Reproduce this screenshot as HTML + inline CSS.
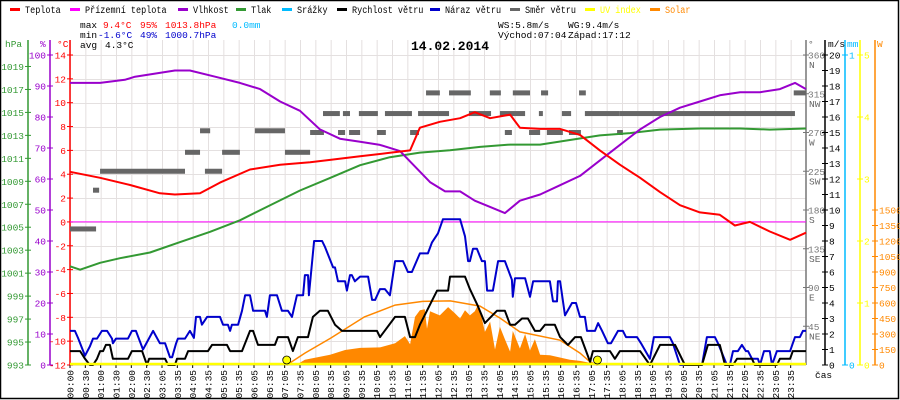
<!DOCTYPE html>
<html><head><meta charset="utf-8">
<style>
html,body{margin:0;padding:0;background:#fff;}
#wrap{position:relative;width:900px;height:400px;overflow:hidden;}
svg text{font-family:"Liberation Mono",monospace;}
</style></head>
<body>
<div id="wrap">
<svg id="chart" width="900" height="400" viewBox="0 0 900 400" xmlns="http://www.w3.org/2000/svg"></svg>
</div>
<script>
// ---------- DATA ----------
const xLabels = ["00:00","00:30","01:00","01:30","02:00","02:30","03:05","03:35","04:05","04:35","05:05","05:35","06:05","06:35","07:05","07:35","08:05","08:35","09:05","09:35","10:05","10:35","11:05","11:35","12:05","12:35","13:05","13:35","14:05","14:35","15:05","15:35","16:05","16:35","17:05","17:35","18:05","18:35","19:05","19:35","20:05","20:35","21:05","21:35","22:05","22:35","23:05","23:35"];
const tempT = [0,0.98,1.96,2.93,3.42,4.24,4.89,5.87,6.85,7.83,8.48,9.46,10.43,11.09,11.41,12.06,12.72,13.2,13.7,14.35,14.67,15.33,15.98,16.63,17.28,17.93,18.59,19.24,19.89,20.54,21.19,21.68,22.17,22.82,23.48,24];
const tempV = [4.2,3.7,3.1,2.4,2.3,2.4,3.3,4.4,4.8,5.0,5.2,5.5,5.8,6.0,7.9,8.4,8.7,9.2,8.7,9.0,7.9,7.8,7.8,7.3,6.0,4.8,3.7,2.5,1.4,0.8,0.6,-0.3,0.0,-0.8,-1.5,-0.9];
const humT = [0,0.98,1.79,2.12,3.42,3.91,4.73,5.54,6.2,6.85,7.5,8.15,8.8,9.46,10.11,10.76,11.25,11.74,12.23,12.72,13.2,13.7,14.18,14.67,15.33,15.98,16.63,17.28,17.93,18.59,19.24,19.89,20.54,21.19,21.85,22.5,23.15,23.64,24];
const humV = [91,91,92,93,95,95,93,91,89,85,82,76,73,72,71,69,64,59,56,56,53,51,49,53,55,58,61,66,71,76,80,83,85,87,88,88,89,91,89];
const presT = [0,0.33,0.98,1.63,2.61,3.59,4.57,5.54,6.52,7.5,8.48,9.46,10.43,11.41,12.39,13.37,14.35,15.33,16.3,17.28,18.26,19.24,20.54,21.85,22.82,24];
const presV = [1001.6,1001.3,1001.9,1002.3,1002.8,1003.7,1004.6,1005.6,1006.9,1008.2,1009.3,1010.4,1011.1,1011.5,1011.7,1012.0,1012.2,1012.2,1012.6,1013.0,1013.2,1013.5,1013.6,1013.6,1013.5,1013.6];
const windT = [0,0.33,0.49,0.65,0.75,0.88,0.98,1.08,1.17,1.30,1.40,1.89,2.02,2.35,2.51,2.58,3.10,3.20,3.42,3.49,3.75,3.85,4.50,4.63,5.12,5.22,5.61,5.87,5.97,6.13,6.68,6.78,7.11,7.27,7.43,7.76,7.92,8.15,8.41,8.64,8.87,10.01,10.11,10.6,10.92,11.09,11.25,11.41,11.97,12.33,12.39,12.88,13.04,13.3,13.53,13.92,14.18,14.35,14.51,14.74,14.93,15.16,15.33,15.49,15.81,15.98,16.24,16.47,16.66,16.96,17.05,17.61,17.77,17.93,18.59,18.91,19.24,19.73,20.05,20.61,20.8,21.19,21.36,21.62,21.75,22.24,22.33,23.05,23.15,23.48,23.57,24];
const windV = [0.9,0.9,0.4,0,0,0.4,0.9,0.9,1.3,1.3,0.4,0.4,0.9,0.9,0,0.4,0.4,0,0,0.4,0.4,0.9,0.9,1.3,1.3,0.9,0.9,2.2,2.2,1.3,1.3,1.8,1.8,0.9,1.8,1.8,3.1,3.5,3.5,2.6,2.2,2.2,1.8,3.1,3.1,1.8,1.8,2.6,4.8,4.8,5.7,5.7,4.9,3.8,2.7,3.5,3.5,2.6,2.6,3.0,3.0,2.2,2.2,2.6,2.6,1.8,1.3,1.8,1.8,0.2,0.9,0.9,0.4,0.9,0.9,0,1.3,1.3,0,0,1.3,1.3,0,0,0.4,0.4,0,0,0.4,0.4,0.9,0.9];
const gustT = [0,0.16,0.26,0.49,0.65,0.75,0.88,1.04,1.21,1.37,1.4,1.5,1.89,2.02,2.15,2.38,2.71,2.93,3.10,3.26,3.33,3.46,3.52,3.75,3.91,4.04,4.11,4.24,4.30,4.47,4.89,4.99,5.15,5.22,5.28,5.48,5.61,5.71,5.87,5.97,6.36,6.42,6.52,6.75,6.91,7.11,7.24,7.40,7.60,7.66,7.76,7.79,7.96,8.22,8.32,8.58,8.64,8.74,8.97,9.03,9.13,9.19,9.29,9.46,9.72,9.85,9.95,10.11,10.27,10.43,10.6,10.86,11.02,11.15,11.41,11.67,11.8,12.0,12.16,12.72,12.88,12.98,13.04,13.14,13.27,13.43,13.53,13.6,13.79,13.96,14.18,14.41,14.44,14.51,14.84,15.0,15.1,15.65,15.75,15.88,15.91,15.98,16.14,16.37,16.5,16.63,16.79,16.86,17.12,17.22,17.35,17.54,17.64,17.87,18.03,18.13,18.49,18.62,18.91,19.04,19.56,19.66,19.89,20.61,20.77,21.03,21.13,21.42,21.52,21.62,21.78,21.91,22.04,22.11,22.24,22.43,22.5,22.63,22.82,22.89,23.05,23.48,23.64,23.8,23.9,24];
const gustV = [2.2,2.2,1.75,0.6,1.2,1.7,1.7,2.2,2.2,1.7,1.4,1.7,1.7,2.2,2.2,1.0,2.2,1.4,1.4,0.5,0.5,1.4,1.7,1.7,2.2,1.75,3.1,3.1,2.6,3.1,3.1,2.6,2.6,2.2,2.6,2.6,3.5,4.5,4.5,3.5,3.5,3.1,4.5,4.5,3.5,3.5,3.1,4.5,4.5,5.8,5.8,4.5,8.0,8.0,7.6,6.3,6.3,5.4,5.4,4.8,5.8,5.8,5.4,5.7,5.7,4.2,4.2,4.9,4.9,4.5,6.7,6.7,6.0,6.0,7.2,7.2,7.9,8.5,9.4,9.4,8.3,6.7,6.7,7.5,7.5,6.7,6.7,4.8,4.8,6.7,6.7,5.5,4.4,5.6,5.6,4.4,5.4,5.4,4.1,4.1,5.4,5.4,3.2,4.0,4.0,3.1,3.1,2.2,2.2,2.7,2.2,1.4,1.4,2.2,2.2,1.8,1.8,1.4,0.4,1.8,1.8,1.4,0,0,1.8,1.8,1.4,0,0,0.9,0.9,1.3,0.9,0.9,0.4,0.4,0,0.9,0.9,0,0.9,0.9,1.8,1.8,2.2,2.2];
const solarT = [7.37,7.66,8.48,8.97,9.46,10.11,10.6,10.92,11.09,11.25,11.41,11.57,11.64,11.74,12.06,12.33,12.55,12.72,12.88,13.04,13.2,13.3,13.43,13.53,13.7,13.86,14.02,14.18,14.35,14.44,14.67,14.84,15.0,15.16,15.33,15.65,16.3,16.63,16.96,17.15];
const solarV = [0,50,100,145,165,170,210,280,200,465,530,540,350,520,480,560,500,450,530,480,520,580,450,320,420,150,370,250,130,330,160,300,140,250,100,95,50,40,20,0];
const clearT = [7.07,7.66,8.5,9.6,10.6,11.5,12.4,13.37,14.02,14.67,15.98,16.63,16.96,17.2];
const clearV = [0,115,260,465,580,615,620,570,455,320,240,115,30,0];
const dirStart = [0,0.75,0.98,3.75,4.24,4.4,4.96,6.03,7.01,7.83,8.25,8.74,8.9,9.1,9.42,10.01,10.27,11.09,11.35,11.61,12.36,13.01,13.69,14.02,14.18,14.44,14.97,15.29,15.36,15.55,16.04,16.27,16.6,16.79,17.84,17.93,23.6];
const dirEnd   = [0.85,0.95,3.75,4.24,4.57,4.96,5.54,7.01,7.83,8.28,8.8,8.97,9.13,9.46,10.04,10.3,11.15,11.38,12.36,12.06,13.07,13.73,14.05,14.84,14.41,15.0,15.33,15.42,15.59,16.07,16.34,16.66,16.82,17.93,18.03,23.64,24];
const dirDeg   = [158,203,225,247,272,225,247,272,247,270,292,270,292,270,292,270,292,270,292,316,316,292,316,292,270,316,270,292,316,270,292,270,316,292,270,292,316];
const sunEvents = [7.067,17.2];
const hpaTicks = [993,995,997,999,1001,1003,1005,1007,1009,1011,1013,1015,1017,1019];
const humTicks = [0,10,20,30,40,50,60,70,80,90,100];
const tempTicks = [-12,-10,-8,-6,-4,-2,0,2,4,6,8,10,12,14];
const dirTicks = [45,90,135,180,225,270,315,360];
const dirNames = ["NE","E","SE","S","SW","W","NW","N"];
const msTicks = [0,1,2,3,4,5,6,7,8,9,10,11,12,13,14,15,16,17,18,19,20];
const uvTicks = [0,1,2,3,4,5];
const wTicks = [0,150,300,450,600,750,900,1050,1200,1350,1500];

// ---------- SCALES ----------
const X0=70, X1=806, YB=365, YT=55;
function xS(h){return X0+h*(X1-X0)/24;}
function yT(v){return YB-(v+12)*(YB-YT)/26;}
function yP(p){return YB-(p-993)*(YB-YT)/27;}
function yH(v){return YB-v*(YB-YT)/100;}
function yW(v){return YB-v*(YB-YT)/20;}
function yD(d){return YB-d*(YB-YT)/360;}
function yS(w){return YB-w*(YB-YT)/3000;}
function yU(u){return YB-u*(YB-YT)/5;}

const NS="http://www.w3.org/2000/svg";
const svg=document.getElementById('chart');
function mk(tag,attrs,parent){const e=document.createElementNS(NS,tag);for(const k in attrs)e.setAttribute(k,attrs[k]);(parent||svg).appendChild(e);return e;}
function txt(s,x,y,fill,size,anchor,parent){const e=mk('text',{x:x,y:y,fill:fill,'font-size':size||10,'text-anchor':anchor||'start'},parent);e.textContent=s;return e;}
function pts(T,V,fy){return T.map((t,i)=>xS(t).toFixed(1)+','+fy(V[i]).toFixed(1)).join(' ');}

// frame
let el=mk('rect',{x:0.5,y:0.5,width:898,height:398,fill:'#fff',stroke:'#000','stroke-width':1.5});



// grid
const grid=mk('g',{stroke:'#e4e0e0','stroke-width':1});


xLabels.forEach((l,i)=>{const x=X0+i*(X1-X0)/48;mk('line',{x1:x+0.5,y1:YT-15,x2:x+0.5,y2:YB},grid);});
tempTicks.forEach(v=>{const y=Math.round(yT(v))+0.5;mk('line',{x1:X0,y1:y,x2:X1,y2:y},grid);});

// legend
const legend=[["Teplota","#ff0000",10],["Přízemní teplota","#ff00ff",70],["Vlhkost","#9900cc",178],["Tlak","#339933",236],["Srážky","#00bbff",282],["Rychlost větru","#000000",337],["Náraz větru","#0000cc",430],["Směr větru","#666666",510],["UV index","#ffff00",585],["Solar","#ff8800",650]];
legend.forEach(([n,c,x])=>{
  const g=mk('g',{});
  
  
  mk('rect',{x:x,y:8,width:10,height:3,fill:c},g);
  const t=txt(n,x+15,13,(c=='#ffff00'||c=='#ff8800')?c:'#000',10,'start',g);
  t.setAttribute('textLength',(n.length*5.1).toFixed(1));
  t.setAttribute('lengthAdjust','spacingAndGlyphs');
});

// stats
const st=mk('g',{});


txt('max',80,28,'#000',9.5,'start',st);txt('9.4°C',103,28,'#f00',9.5,'start',st);txt('95%',140,28,'#f00',9.5,'start',st);txt('1013.8hPa',165,28,'#f00',9.5,'start',st);txt('0.0mm',232,28,'#00bbff',9.5,'start',st);
txt('min',80,38,'#000',9.5,'start',st);txt('-1.6°C',98,38,'#00c',9.5,'start',st);txt('49%',140,38,'#00c',9.5,'start',st);txt('1000.7hPa',165,38,'#00c',9.5,'start',st);
txt('avg',80,48,'#000',9.5,'start',st);txt('4.3°C',105,48,'#000',9.5,'start',st);
txt('WS:5.8m/s',498,28,'#000',9.5,'start',st);txt('WG:9.4m/s',568,28,'#000',9.5,'start',st);
txt('Východ:07:04',498,38,'#000',9.5,'start',st);txt('Západ:17:12',568,38,'#000',9.5,'start',st);
el=txt('14.02.2014',450,50,'#000',13,'middle');
el.setAttribute('font-weight','bold');



// axes
function axis(name,x,color,ticks,fy,labFn,side,lx){
  const g=mk('g',{});
  
  
  mk('line',{x1:x,y1:40,x2:x,y2:YB,stroke:color,'stroke-width':1.5},g);
  ticks.forEach((v,i)=>{const y=fy(v);mk('line',{x1:x-3,y1:y,x2:x+3,y2:y,stroke:color},g);txt(labFn(v,i),lx,y+3.5,color,9.5,side,g);});
  return g;
}
axis('hpa-axis',28,'#339933',hpaTicks,yP,v=>String(v),'end',24);
axis('humidity-axis',50,'#9900cc',humTicks,yH,v=>String(v),'end',46);
axis('temperature-axis',70,'#ff0000',tempTicks,yT,v=>String(v),'end',66);
axis('direction-axis',806,'#777777',dirTicks,yD,v=>String(v),'start',808);
const dl=mk('g',{});


dirTicks.forEach((v,i)=>txt(dirNames[i],809,yD(v)+13,'#666',9.5,'start',dl));
axis('wind-speed-axis',825,'#000000',msTicks,yW,v=>String(v),'start',829);
axis('rain-axis',845,'#00bbff',[0,1],v=>v?YT:YB,v=>String(v),'start',849);
axis('uv-axis',860,'#ffff00',uvTicks,yU,v=>String(v),'start',864);
axis('solar-axis',875,'#ff8800',wTicks,yS,v=>String(v),'start',879);
const units=[['hPa',5,'#339933'],['%',40,'#9900cc'],['°C',57,'#ff0000'],['°',808,'#666'],['m/s',828,'#000'],['mm',847,'#00bbff'],['W',877,'#ff8800']];
units.forEach(([u,x,c])=>{const t=txt(u,x,47,c,9.5,'start');
  
  });

// x labels
const xl=mk('g',{});


xLabels.forEach((l,i)=>{const x=X0+i*(X1-X0)/48;mk('line',{x1:x,y1:YB,x2:x,y2:YB+3,stroke:'#000'},xl);
  const t=txt(l,0,0,'#000',9.5,'end',xl);t.setAttribute('transform','translate('+(x+3.5)+','+(YB+5)+') rotate(-90)');});
el=txt('čas',815,378,'#000',9.5,'start');



// zero line (ground temp)
el=mk('line',{x1:X0,y1:yT(0),x2:X1,y2:yT(0),stroke:'#ff00ff','stroke-width':1});



// solar area
el=mk('polygon',{points:xS(solarT[0])+','+YB+' '+pts(solarT,solarV,yS)+' '+xS(solarT[solarT.length-1])+','+YB,fill:'#ff8800'});


el=mk('polyline',{points:pts(clearT,clearV,yS),fill:'none',stroke:'#ff8800','stroke-width':1.5});



// wind direction
const dg=mk('g',{});


dirStart.forEach((s,i)=>{mk('rect',{x:xS(s),y:yD(dirDeg[i])-2.5,width:Math.max(2,xS(dirEnd[i])-xS(s)),height:5,fill:'#666'},dg);});

// lines
function line(name,T,V,fy,c,w){const e=mk('polyline',{points:pts(T,V,fy),fill:'none',stroke:c,'stroke-width':w,'stroke-linejoin':'round'});return e;}
el=line('pressure',presT,presV,yP,'#339933',2);


el=line('humidity',humT,humV,yH,'#9900cc',2);


el=line('gust',gustT,gustV,yW,'#0000cc',2);


el=line('wind',windT,windV,yW,'#000000',2);


el=line('temp',tempT,tempV,yT,'#ff0000',2);



// UV line
el=mk('line',{x1:X0,y1:YB-1,x2:X1,y2:YB-1,stroke:'#ffff00','stroke-width':2.5});



// sunrise/sunset markers
sunEvents.forEach(h=>{const c=mk('circle',{cx:xS(h),cy:YB-5,r:4,fill:'#ffff00',stroke:'#000','stroke-width':0.8});
  
  });
</script>
</body></html>
